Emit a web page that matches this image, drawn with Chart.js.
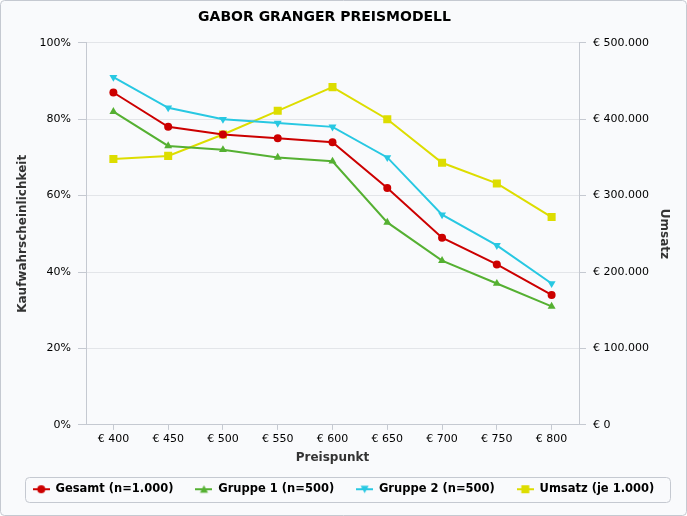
<!DOCTYPE html>
<html>
<head>
<meta charset="utf-8">
<script src="https://cdn.jsdelivr.net/npm/chart.js@4.4.0/dist/chart.umd.min.js"></script>
<style>
  html, body { margin: 0; padding: 0; background: #ffffff; }
  #wrap { width: 687px; height: 516px; }
</style>
</head>
<body>
<div id="wrap"><canvas id="chart" width="687" height="516"></canvas></div>
<script>
// Preispunkte (x-Achse)
const preise = ['€ 400', '€ 450', '€ 500', '€ 550', '€ 600', '€ 650', '€ 700', '€ 750', '€ 800'];

// Kaufwahrscheinlichkeit in %
const gesamt  = [87, 78, 76, 75, 74, 62, 49, 42, 34];
const gruppe1 = [82, 73, 72, 70, 69, 53, 43, 37, 31];
const gruppe2 = [91, 83, 80, 79, 78, 70, 55, 47, 37];

// Umsatz (je 1.000) in €
const umsatz = [348000, 352000, 380000, 411000, 442000, 400000, 343000, 316000, 272000];

const colors = {
    gesamt: '#cc0000',
    gruppe1: '#55b032',
    gruppe2: '#28c8e2',
    umsatz: '#dddd00'
};

const fontFamily = '"DejaVu Sans", Verdana, sans-serif';

function formatEuro(v) {
    return '€ ' + String(v).replace(/\B(?=(\d{3})+(?!\d))/g, '.');
}

// small legend icons: line with marker in the middle
function legendIcon(color, style) {
    const c = document.createElement('canvas');
    c.width = 17;
    c.height = 10;
    const ctx = c.getContext('2d');
    ctx.strokeStyle = color;
    ctx.fillStyle = color;
    ctx.lineWidth = 2;
    ctx.beginPath();
    ctx.moveTo(0, 5);
    ctx.lineTo(17, 5);
    ctx.stroke();
    ctx.beginPath();
    if (style === 'circle') {
        ctx.arc(8.5, 5, 4, 0, Math.PI * 2);
    } else if (style === 'triangle') {
        ctx.moveTo(8.5, 1);
        ctx.lineTo(12.5, 8.5);
        ctx.lineTo(4.5, 8.5);
        ctx.closePath();
    } else if (style === 'triangleDown') {
        ctx.moveTo(4.5, 1.5);
        ctx.lineTo(12.5, 1.5);
        ctx.lineTo(8.5, 9);
        ctx.closePath();
    } else {
        ctx.rect(4.5, 1, 8, 8);
    }
    ctx.fill();
    return c;
}

// background + outer border + legend frame, title nudged left like the original
const framePlugin = {
    id: 'frame',
    afterLayout(chart) {
        const t = chart.titleBlock;
        if (t) {
            t.left -= 19;
            t.right -= 19;
        }
    },
    beforeDraw(chart) {
        const ctx = chart.ctx;
        ctx.save();
        ctx.fillStyle = '#f9fafc';
        ctx.beginPath();
        ctx.roundRect(0.5, 0.5, chart.width - 1, chart.height - 1, 4);
        ctx.fill();
        ctx.strokeStyle = '#c5c9d1';
        ctx.lineWidth = 1;
        ctx.stroke();
        ctx.restore();
    },
    afterDraw(chart) {
        const lg = chart.legend;
        if (!lg || !lg.legendItems) return;
        const hit = lg.legendHitBoxes;
        if (!hit || !hit.length) return;
        const first = hit[0];
        const last = hit[hit.length - 1];
        const ctx = chart.ctx;
        ctx.save();
        ctx.strokeStyle = '#c5c9d1';
        ctx.lineWidth = 1;
        ctx.beginPath();
        const x0 = Math.round(first.left - 8) + 0.5;
        const x1 = Math.round(last.left + last.width + 16) + 0.5;
        const y0 = Math.round(first.top - 7) + 0.5;
        const y1 = Math.round(first.top + first.height + 7) + 0.5;
        ctx.roundRect(x0, y0, x1 - x0, y1 - y0, 4);
        ctx.stroke();
        ctx.restore();
    }
};

const ctx = document.getElementById('chart').getContext('2d');
new Chart(ctx, {
    type: 'line',
    data: {
        labels: preise,
        datasets: [
            {
                label: 'Gesamt (n=1.000)',
                data: gesamt,
                yAxisID: 'y',
                borderColor: colors.gesamt,
                backgroundColor: colors.gesamt,
                borderWidth: 2,
                pointStyle: 'circle',
                pointRadius: 4,
                pointBorderWidth: 0,
                legendStyle: 'circle'
            },
            {
                label: 'Gruppe 1 (n=500)',
                data: gruppe1,
                yAxisID: 'y',
                borderColor: colors.gruppe1,
                backgroundColor: colors.gruppe1,
                borderWidth: 2,
                pointStyle: 'triangle',
                pointRadius: 4.6,
                pointBorderWidth: 0,
                legendStyle: 'triangle'
            },
            {
                label: 'Gruppe 2 (n=500)',
                data: gruppe2,
                yAxisID: 'y',
                borderColor: colors.gruppe2,
                backgroundColor: colors.gruppe2,
                borderWidth: 2,
                pointStyle: 'triangle',
                pointRotation: 180,
                pointRadius: 4.6,
                pointBorderWidth: 0,
                legendStyle: 'triangleDown'
            },
            {
                label: 'Umsatz (je 1.000)',
                data: umsatz,
                yAxisID: 'y1',
                borderColor: colors.umsatz,
                backgroundColor: colors.umsatz,
                borderWidth: 2,
                pointStyle: 'rect',
                pointRadius: 5.7,
                pointBorderWidth: 0,
                legendStyle: 'rect'
            }
        ]
    },
    options: {
        responsive: false,
        animation: false,
        layout: { padding: { left: 0, right: 0, top: 0, bottom: 11 } },
        plugins: {
            title: {
                display: true,
                text: 'GABOR GRANGER PREISMODELL',
                color: '#000000',
                font: { family: fontFamily, size: 14, weight: 'bold' },
                padding: { top: 9, bottom: 17 }
            },
            legend: {
                position: 'bottom',
                labels: {
                    usePointStyle: true,
                    pointStyleWidth: 17,
                    padding: 22,
                    color: '#000000',
                    font: { family: fontFamily, size: 11.5, weight: 'bold' },
                    generateLabels(chart) {
                        return chart.data.datasets.map((ds, i) => ({
                            text: ds.label,
                            fillStyle: ds.backgroundColor,
                            strokeStyle: ds.borderColor,
                            lineWidth: 0,
                            pointStyle: legendIcon(ds.borderColor, ds.legendStyle),
                            hidden: false,
                            datasetIndex: i,
                            fontColor: '#000000'
                        }));
                    }
                }
            },
            tooltip: { enabled: false }
        },
        scales: {
            x: {
                offset: true,
                grid: {
                    drawOnChartArea: false,
                    drawTicks: true,
                    tickLength: 5,
                    tickColor: '#c5c9d1',
                    offset: false
                },
                border: { color: '#c5c9d1', width: 1 },
                ticks: {
                    color: '#000000',
                    padding: 3,
                    font: { family: fontFamily, size: 11 }
                },
                title: {
                    display: true,
                    text: 'Preispunkt',
                    color: '#333333',
                    font: { family: fontFamily, size: 12, weight: 'bold' },
                    padding: { top: 2, bottom: -4 }
                }
            },
            y: {
                position: 'left',
                min: 0,
                max: 100,
                afterFit(scale) { scale.width = 86; },
                grid: {
                    color: '#e3e5e9',
                    tickLength: 8,
                    tickColor: '#c5c9d1'
                },
                border: { color: '#c5c9d1', width: 1 },
                ticks: {
                    stepSize: 20,
                    color: '#000000',
                    padding: 7,
                    font: { family: fontFamily, size: 11 },
                    callback: v => v + '%'
                },
                title: {
                    display: true,
                    text: 'Kaufwahrscheinlichkeit',
                    color: '#333333',
                    font: { family: fontFamily, size: 12, weight: 'bold' },
                    padding: { top: 16, bottom: 0 }
                }
            },
            y1: {
                position: 'right',
                min: 0,
                max: 500000,
                afterFit(scale) { scale.width = 108; },
                grid: {
                    drawOnChartArea: false,
                    tickLength: 7,
                    tickColor: '#c5c9d1'
                },
                border: { color: '#c5c9d1', width: 1 },
                ticks: {
                    stepSize: 100000,
                    color: '#000000',
                    padding: 7,
                    font: { family: fontFamily, size: 11 },
                    callback: v => formatEuro(v)
                },
                title: {
                    display: true,
                    text: 'Umsatz',
                    color: '#333333',
                    font: { family: fontFamily, size: 12, weight: 'bold' },
                    padding: { top: 16, bottom: 0 }
                }
            }
        }
    },
    plugins: [framePlugin]
});
</script>
</body>
</html>
